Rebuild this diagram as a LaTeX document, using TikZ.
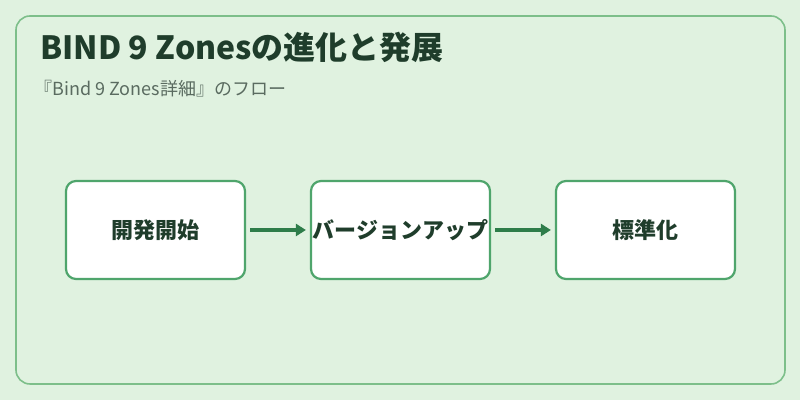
\documentclass[tikz,border=0pt]{standalone}
\usepackage{fontspec}
\setmainfont{Noto Sans CJK JP}
\usetikzlibrary{arrows.meta}
\definecolor{bgc}{HTML}{E0F2E0}
\definecolor{framec}{HTML}{7DBF8A}
\definecolor{boxc}{HTML}{4FA56C}
\definecolor{arrowc}{HTML}{2E7D4A}
\definecolor{titlec}{HTML}{1F3D2B}
\definecolor{subc}{HTML}{5A6B60}
\tikzset{
  stepbox/.style={draw=boxc,line width=1.1pt,fill=white,rounded corners=5pt,minimum width=89.5pt,minimum height=49pt,inner sep=0pt,font=\fontsize{11}{13}\selectfont\bfseries,text=titlec},
  flow/.style={draw=arrowc,line width=1.6pt,-{Triangle[length=5pt,width=6pt]}}
}
\begin{document}
\begin{tikzpicture}[x=0.5pt,y=-0.5pt]
\useasboundingbox[fill=bgc] (0,0) rectangle (800,400);
\draw[framec,line width=0.8pt,rounded corners=7pt] (16,16) rectangle (785,384);
\node[anchor=west,inner sep=0pt,font=\fontsize{16}{18}\selectfont\bfseries,text=titlec] (title) at (40,47) {BIND 9 Zonesの進化と発展};
\node[anchor=west,inner sep=0pt,font=\fontsize{9}{11}\selectfont,text=subc] (sub) at (34,89) {『Bind 9 Zones詳細』のフロー};
\node[stepbox] (start) at (155.5,230) {開発開始};
\node[stepbox] (up) at (400.5,230) {バージョンアップ};
\node[stepbox] (std) at (645.5,230) {標準化};
\draw[flow] (start.east) ++(4,0) -- ([xshift=-2]up.west);
\draw[flow] (up.east) ++(4,0) -- ([xshift=-2]std.west);
\end{tikzpicture}
\end{document}
